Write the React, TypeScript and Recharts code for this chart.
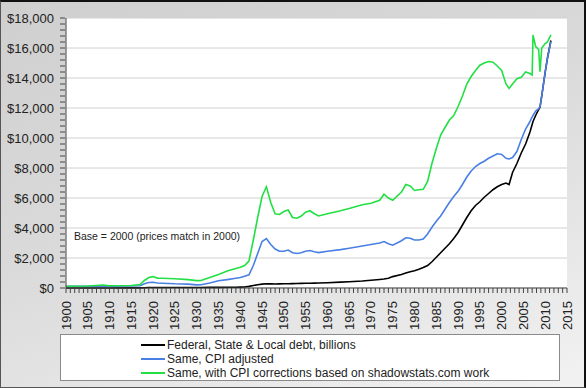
import { LineChart, Line, XAxis, YAxis, ReferenceLine } from 'recharts';

const years = [
  1900, 1905, 1908.5, 1910, 1915, 1917, 1918, 1919, 1920, 1921, 1922, 1925, 1928, 1930, 1931, 1933, 1935, 1937,
  1939, 1940, 1941, 1942, 1943, 1944, 1945, 1946, 1947, 1948, 1949, 1950, 1951, 1952, 1953, 1954, 1955, 1956,
  1957, 1958, 1960, 1963, 1965, 1968, 1970, 1972, 1973, 1974, 1975, 1977, 1978, 1979, 1980, 1981, 1982, 1983,
  1984, 1985, 1986, 1987, 1988, 1989, 1990, 1991, 1992, 1993, 1994, 1995, 1996, 1997, 1998, 1999, 2000, 2001,
  2001.7, 2002.5, 2003.5, 2004.5, 2005.5, 2006.5, 2007, 2007.2, 2007.8, 2008.5, 2008.8, 2009.2, 2010, 2010.5,
  2011.3,
];

const nominalDebt = [
  3, 4, 5, 5, 6, 10, 20, 30, 30, 32, 33, 33, 33, 34, 36, 40, 44, 48,
  55, 60, 70, 110, 170, 220, 260, 280, 275, 270, 275, 280, 285, 290, 300, 310, 315, 320,
  325, 335, 355, 390, 420, 470, 520, 570, 600, 650, 760, 900, 1000, 1080, 1150, 1250, 1370, 1500,
  1750, 2050, 2350, 2650, 2950, 3300, 3700, 4200, 4700, 5150, 5500, 5750, 6050, 6300, 6550, 6750, 6900, 7000,
  6900, 7700, 8300, 9000, 9600, 10400, 10900, 11100, 11500, 11900, 12050, 12800, 14400, 15300,
  16500,
];

const cpiAdjusted = [
  110, 120, 140, 125, 130, 150, 280, 370, 380, 330, 320, 280, 260, 210, 220, 330, 480, 560,
  650, 700, 790, 880, 1500, 2300, 3100, 3300, 2900, 2600, 2450, 2450, 2530, 2350, 2300, 2350, 2450, 2500,
  2420, 2360, 2450, 2560, 2650, 2800, 2900, 3000, 3100, 2950, 2850, 3150, 3350, 3320, 3200, 3200, 3260, 3600,
  4050, 4450, 4800, 5250, 5700, 6100, 6450, 6900, 7400, 7800, 8100, 8300, 8450, 8650, 8800, 8950, 8900, 8650,
  8600, 8700, 9100, 9900, 10600, 11100, 11400, 11500, 11800, 11950, 12090, 12800, 14400, 15300,
  16420,
];

const shadowstats = [
  120, 130, 200, 150, 170, 230, 500, 700, 760, 660, 650, 620, 560, 490, 500, 700, 900, 1130,
  1300, 1380, 1500, 1800, 3200, 4700, 6100, 6750, 5700, 4950, 4900, 5100, 5200, 4700, 4650, 4800, 5050, 5150,
  4950, 4800, 4950, 5150, 5300, 5550, 5650, 5850, 6250, 6000, 5850, 6400, 6900, 6800, 6500, 6550, 6580, 7100,
  8300, 9300, 10200, 10700, 11200, 11500, 12100, 12800, 13600, 14100, 14500, 14850, 15000, 15100, 15050, 14800, 14500, 13600,
  13300, 13600, 13950, 14050, 14400, 14300, 14200, 16870, 16100, 15900, 14420, 16000, 16300, 16400,
  16870,
];

const yMajorTicks = [0, 2000, 4000, 6000, 8000, 10000, 12000, 14000, 16000, 18000];

const seriesInfo = [
  { key: 'debt', name: 'Federal, State & Local debt, billions', color: '#000000' },
  { key: 'cpi', name: 'Same, CPI adjusted', color: '#4a7fe3' },
  { key: 'shadow', name: 'Same, with CPI corrections based on shadowstats.com work', color: '#22e044' },
];

const data = years.map((year, i) => ({
  year,
  debt: nominalDebt[i],
  cpi: cpiAdjusted[i],
  shadow: shadowstats[i],
}));

// minor ticks every 400 on y, every year on x
const yMinor: number[] = [];
for (let v = 0; v <= 18000; v += 400) yMinor.push(v);
const xMinor: number[] = [];
for (let y = 1900; y <= 2015; y++) xMinor.push(y);

const FONT = 'Liberation Sans, Arial, sans-serif';

function YTick(props: any) {
  const { x, y, payload } = props;
  const v = payload.value;
  const major = v % 2000 === 0;
  return (
    <g>
      <line x1={x + 2} x2={x + 7} y1={y} y2={y} stroke="#444" strokeWidth={1} />
      {major && (
        <text x={x - 4} y={y} dy={4.5} textAnchor="end" fontSize={13} fontFamily={FONT} fill="#222">
          ${v.toLocaleString('en-US')}
        </text>
      )}
    </g>
  );
}

function XTick(props: any) {
  const { x, y, payload } = props;
  const v = payload.value;
  const major = v % 5 === 0;
  return (
    <g>
      <line x1={x} x2={x} y1={y - 8} y2={y - 3} stroke="#444" strokeWidth={1} />
      {major && (
        <text
          x={0}
          y={0}
          transform={`translate(${x + 4.5},${y + 5}) rotate(-90)`}
          textAnchor="end"
          fontSize={13}
          fontFamily={FONT}
          fill="#222"
        >
          {v}
        </text>
      )}
    </g>
  );
}

export default function App() {
  return (
    <div
      style={{
        position: 'absolute',
        left: 0,
        top: 0,
        width: 583,
        height: 385,
        borderTop: '2px solid #111',
        borderLeft: '1px solid #555',
        borderRight: '2px solid #111',
        borderBottom: '1px solid #555',
        background: 'linear-gradient(160deg, #cfcfcf 0%, #dadada 45%, #f2f2f2 100%)',
      }}
    >
      <div style={{ position: 'absolute', left: 65, top: 16, width: 501, height: 271, background: '#fff' }} />
      <div style={{ position: 'absolute', left: 0, top: 0 }}>
        <LineChart width={584} height={386} data={data} margin={{ top: 16, right: 18, bottom: 58, left: 7 }}>
          {yMajorTicks.map((v) => (
            <ReferenceLine key={v} y={v} stroke="#d0d0d0" strokeWidth={1} />
          ))}
          <XAxis
            dataKey="year"
            type="number"
            domain={[1900, 2015]}
            ticks={xMinor}
            interval={0}
            tickLine={false}
            axisLine={{ stroke: '#444' }}
            tick={<XTick />}
            height={42}
          />
          <YAxis
            type="number"
            domain={[0, 18000]}
            ticks={yMinor}
            interval={0}
            tickLine={false}
            axisLine={{ stroke: '#444' }}
            tick={<YTick />}
            width={58}
          />
          {seriesInfo.map((s) => (
            <Line
              key={s.key}
              type="linear"
              dataKey={s.key}
              name={s.name}
              stroke={s.color}
              strokeWidth={1.6}
              dot={false}
              isAnimationActive={false}
            />
          ))}
        </LineChart>
      </div>
      <div
        style={{
          position: 'absolute',
          left: 73,
          top: 228,
          fontSize: 10.5,
          fontFamily: FONT,
          color: '#222',
          whiteSpace: 'nowrap',
        }}
      >
        Base = 2000 (prices match in 2000)
      </div>
      <div
        style={{
          position: 'absolute',
          left: 59,
          top: 332,
          width: 498,
          height: 45,
          background: '#fff',
          border: '1px solid #8a8a8a',
        }}
      >
        {seriesInfo.map((s, i) => (
          <div
            key={s.key}
            style={{
              position: 'absolute',
              left: 80,
              top: 3 + i * 14,
              height: 14,
              display: 'flex',
              alignItems: 'center',
              fontSize: 12,
              fontFamily: FONT,
              color: '#222',
              whiteSpace: 'nowrap',
            }}
          >
            <span style={{ display: 'inline-block', width: 24, height: 2, background: s.color, marginRight: 2 }} />
            {s.name}
          </div>
        ))}
      </div>
    </div>
  );
}
